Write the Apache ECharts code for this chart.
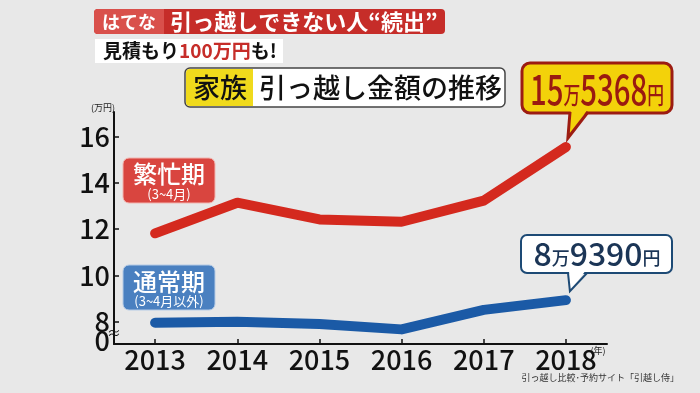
<!DOCTYPE html>
<html><head><meta charset="utf-8">
<script src="https://cdn.jsdelivr.net/npm/echarts@6/dist/echarts.min.js"></script>
<style>html,body{margin:0;padding:0;background:#e8e8e8}#c{width:700px;height:393px}</style>
</head><body><div id="c"></div>
<script>
// ---- data ----
const years = ['2013', '2014', '2015', '2016', '2017', '2018'];
const busySeason = [11.82, 13.14, 12.42, 12.32, 13.23, 15.54];   // 繁忙期 (万円)
const normalSeason = [7.97, 8.01, 7.91, 7.68, 8.52, 8.94];      // 通常期 (万円)
const yTickValues = [8, 10, 12, 14, 16];
const axisBase = 7.05;   // broken axis bottom, labelled 0
const axisTop = 17.05;
const baseLabel = '0';
const busyLabel = ['15', '万', '5368', '円'];
const normalLabel = ['8', '万', '9390', '円'];

const JP = '"Noto Sans CJK JP", "Noto Sans", sans-serif';
const chart = echarts.init(document.getElementById('c'));

const option = {
  backgroundColor: '#e8e8e8',
  animation: false,
  grid: { left: 114, right: 93, top: 112, bottom: 49 },
  xAxis: {
    type: 'category', data: years, boundaryGap: true,
    axisLine: { lineStyle: { color: '#111', width: 2 } },
    axisTick: { show: true, inside: true, length: 5, alignWithLabel: true, lineStyle: { color: '#111', width: 1.5 } },
    axisLabel: { color: '#111', fontSize: 27, fontWeight: 500, fontFamily: JP, margin: 2 }
  },
  yAxis: {
    type: 'value', min: axisBase, max: axisTop,
    splitLine: { show: false },
    axisLine: { show: true, lineStyle: { color: '#111', width: 2 } },
    axisTick: { show: true, inside: true, length: 5, customValues: yTickValues, lineStyle: { color: '#111', width: 1.5 } },
    axisLabel: {
      color: '#111', fontSize: 27, fontWeight: 500, fontFamily: JP, margin: 4,
      customValues: yTickValues
    }
  },
  series: [
    { type: 'line', data: busySeason, symbol: 'none', z: 3,
      lineStyle: { color: '#d4291e', width: 10, cap: 'round', join: 'round' } },
    { type: 'line', data: normalSeason, symbol: 'none', z: 3,
      lineStyle: { color: '#1b5aa6', width: 10, cap: 'round', join: 'round' } }
  ]
};
chart.setOption(option);

const redTip = chart.convertToPixel({ seriesIndex: 0 }, [years.length - 1, busySeason[busySeason.length - 1]]);
const blueTip = chart.convertToPixel({ seriesIndex: 1 }, [years.length - 1, normalSeason[normalSeason.length - 1]]);
const basePx = chart.convertToPixel({ yAxisIndex: 0 }, axisBase);

const g = [];
// header
g.push({ type: 'rect', shape: { x: 94, y: 9, width: 351, height: 25, r: 4 }, style: { fill: '#c62d29' } });
g.push({ type: 'rect', shape: { x: 94, y: 9, width: 70, height: 25, r: [4, 0, 0, 4] }, style: { fill: '#d9504b' } });
g.push({ type: 'text', style: { x: 129, y: 22, text: 'はてな', fill: '#fff', font: 'bold 18px ' + JP, align: 'center', verticalAlign: 'middle' } });
g.push({ type: 'text', style: { x: 304, y: 22, text: '引っ越しできない人“続出”', fill: '#fff', font: 'bold 22px ' + JP, align: 'center', verticalAlign: 'middle' } });
g.push({ type: 'rect', shape: { x: 95, y: 39, width: 188, height: 24 }, style: { fill: '#fff' } });
g.push({ type: 'text', style: { x: 103, y: 51, verticalAlign: 'middle',
  text: '{a|見積もり}{b|100万円}{a|も!}',
  rich: { a: { fill: '#111', font: 'bold 19px ' + JP }, b: { fill: '#c62d29', font: 'bold 19px ' + JP } } } });
// title
g.push({ type: 'rect', shape: { x: 185, y: 68, width: 320, height: 39, r: 5 }, style: { fill: '#fff', stroke: '#444', lineWidth: 1.5 } });
g.push({ type: 'rect', shape: { x: 186, y: 69, width: 67, height: 37, r: [4, 0, 0, 4] }, style: { fill: '#f0da1c' } });
g.push({ type: 'text', style: { x: 220, y: 88, text: '家族', fill: '#111', font: '500 27px ' + JP, align: 'center', verticalAlign: 'middle' } });
g.push({ type: 'text', style: { x: 259, y: 88, text: '引っ越し金額の推移', fill: '#111', font: '500 27px ' + JP, align: 'left', verticalAlign: 'middle' } });
// axis extras
g.push({ type: 'text', style: { x: 110, y: basePx - 3, text: baseLabel, fill: '#111', font: '500 27px ' + JP, align: 'right', verticalAlign: 'middle' } });
g.push({ type: 'text', style: { x: 103, y: 108, text: '(万円)', fill: '#222', font: '9px ' + JP, align: 'center', verticalAlign: 'middle' } });
g.push({ type: 'text', style: { x: 598, y: 351, text: '(年)', fill: '#222', font: '9px ' + JP, align: 'center', verticalAlign: 'middle' } });
g.push({ type: 'text', style: { x: 114, y: 333, text: '≈', fill: '#111', font: '14px ' + JP, align: 'center', verticalAlign: 'middle' } });
g.push({ type: 'text', style: { x: 679, y: 378, text: '引っ越し比較･予約サイト「引越し侍」', fill: '#333', font: '9px ' + JP, align: 'right', verticalAlign: 'middle' } });
// series labels
g.push({ type: 'rect', shape: { x: 123, y: 158, width: 92, height: 45, r: 6 }, style: { fill: '#d9453f', stroke: '#f2b5b0', lineWidth: 1 } });
g.push({ type: 'text', style: { x: 169, y: 174, text: '繁忙期', fill: '#fff', font: '500 24px ' + JP, align: 'center', verticalAlign: 'middle' } });
g.push({ type: 'text', style: { x: 169, y: 194, text: '(3~4月)', fill: '#fff', font: '13px ' + JP, align: 'center', verticalAlign: 'middle' } });
g.push({ type: 'rect', shape: { x: 123, y: 265, width: 92, height: 45, r: 6 }, style: { fill: '#4a80c0', stroke: '#b5cbe6', lineWidth: 1 } });
g.push({ type: 'text', style: { x: 169, y: 282, text: '通常期', fill: '#fff', font: '500 24px ' + JP, align: 'center', verticalAlign: 'middle' } });
g.push({ type: 'text', style: { x: 169, y: 301, text: '(3~4月以外)', fill: '#fff', font: '13px ' + JP, align: 'center', verticalAlign: 'middle' } });
// red callout
const rtx = redTip[0] + 2, rty = redTip[1] - 9;
g.push({ type: 'rect', z: 10, shape: { x: 522, y: 63, width: 150, height: 50, r: 8 }, style: { fill: '#f3d20a', stroke: '#9c1c12', lineWidth: 3 } });
g.push({ type: 'polygon', z: 11, shape: { points: [[571, 109], [588, 109], [rtx, rty]] }, style: { fill: '#f3d20a' } });
g.push({ type: 'polyline', z: 12, shape: { points: [[570, 112], [rtx, rty], [588, 112]] }, style: { stroke: '#9c1c12', lineWidth: 3, fill: null } });
g.push({ type: 'text', z: 13, x: 597, y: 89, scaleX: 0.7, style: { x: 0, y: 0, align: 'center', verticalAlign: 'middle',
  text: '{d|' + busyLabel[0] + '}{s|' + busyLabel[1] + '}{d|' + busyLabel[2] + '}{s|' + busyLabel[3] + '}',
  rich: { d: { fill: '#9a1a10', font: '500 42px ' + JP }, s: { fill: '#9a1a10', font: '500 24px ' + JP, padding: [12, 0, 0, 0] } } } });
// blue callout
const btx = blueTip[0] + 4, bty = blueTip[1] - 9;
g.push({ type: 'rect', z: 10, shape: { x: 521, y: 235, width: 151, height: 38, r: 6 }, style: { fill: '#fff', stroke: '#1d4a75', lineWidth: 2 } });
g.push({ type: 'polygon', z: 11, shape: { points: [[569, 270], [586, 270], [btx, bty]] }, style: { fill: '#fff' } });
g.push({ type: 'polyline', z: 12, shape: { points: [[568, 273], [btx, bty], [587, 273]] }, style: { stroke: '#1d4a75', lineWidth: 2, fill: null } });
g.push({ type: 'text', z: 13, x: 597, y: 254, style: { x: 0, y: 0, align: 'center', verticalAlign: 'middle',
  text: '{d|' + normalLabel[0] + '}{s|' + normalLabel[1] + '}{d|' + normalLabel[2] + '}{s|' + normalLabel[3] + '}',
  rich: { d: { fill: '#1b3556', font: '500 32px ' + JP }, s: { fill: '#1b3556', font: '500 18px ' + JP, padding: [8, 0, 0, 0] } } } });

chart.setOption({ graphic: { elements: g } });
</script></body></html>
